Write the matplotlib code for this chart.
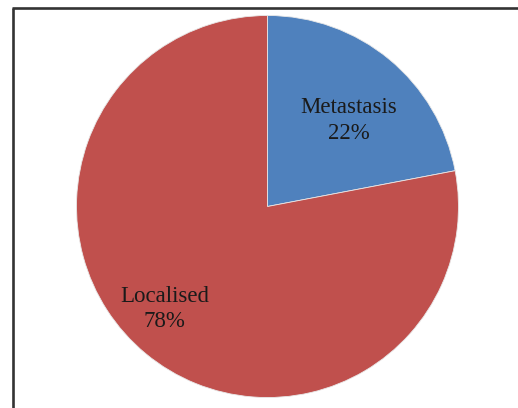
import matplotlib
matplotlib.use("Agg")
import matplotlib.pyplot as plt
import numpy as np

# Disease stage distribution
categories = ["Metastasis", "Localised"]
shares = [22, 78]
colors = ["#4F81BD", "#C0504D"]

W, H = 518, 408
fig = plt.figure(figsize=(W / 100, H / 100), dpi=100)
ax = fig.add_axes([0, 0, 1, 1])

center = (267.5, H - 206.5)
radius = 191

wedges, _ = ax.pie(shares, colors=colors, startangle=90, counterclock=False,
                   center=center, radius=radius, frame=True,
                   wedgeprops=dict(edgecolor="#e8e8e8", linewidth=0.6))
ax.set_xlim(0, W)
ax.set_ylim(0, H)
ax.set_aspect("equal")
ax.axis("off")

# label placement inside each wedge: (fraction of radius, angle offset in degrees)
label_pos = [(0.62, -4.0), (0.76, -5.5)]
for w, name, val, (rf, dth) in zip(wedges, categories, shares, label_pos):
    ang = np.deg2rad((w.theta1 + w.theta2) / 2 + dth)
    x = center[0] + rf * radius * np.cos(ang)
    y = center[1] + rf * radius * np.sin(ang)
    ax.text(x, y, f"{name}\n{val}%", ha="center", va="center",
            fontsize=16.5, family="Liberation Serif", color="#1a1a1a",
            linespacing=1.3)

# chart area border
ax.plot([13, 13], [-5, H - 8], color="#333333", lw=1.9, solid_capstyle="butt",
        clip_on=False)
ax.plot([12.3, W + 5], [H - 8, H - 8], color="#333333", lw=1.9,
        solid_capstyle="butt", clip_on=False)

fig.savefig("out.png", dpi=100)
